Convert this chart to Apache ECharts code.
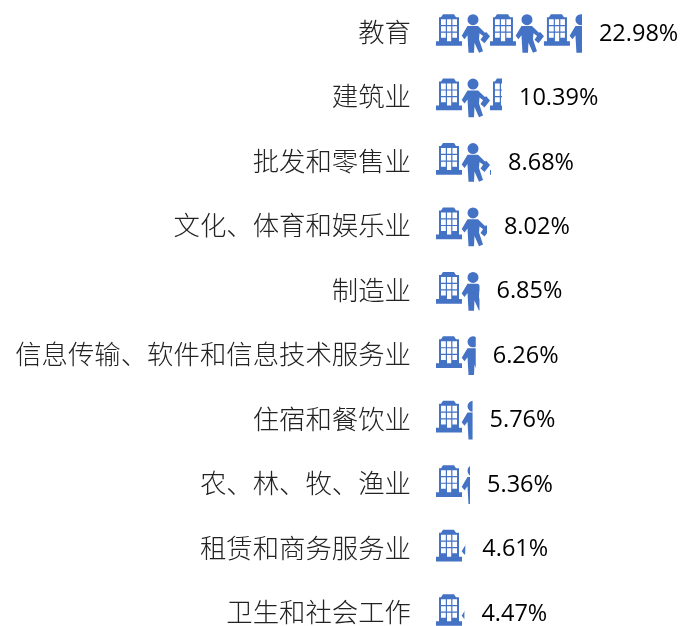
<!DOCTYPE html>
<html>
<head>
<meta charset="UTF-8">
<title>行业分布</title>
<style>
html,body{margin:0;padding:0;background:#fff}
#main{width:680px;height:626px}
</style>
<script src="https://cdn.jsdelivr.net/npm/echarts@6/dist/echarts.min.js"></script>
</head>
<body>
<div id="main"></div>
<script>
var categories = ['教育','建筑业','批发和零售业','文化、体育和娱乐业','制造业','信息传输、软件和信息技术服务业','住宿和餐饮业','农、林、牧、渔业','租赁和商务服务业','卫生和社会工作'];
var values = [22.98,10.39,8.68,8.02,6.85,6.26,5.76,5.36,4.61,4.47];

// one building + one person, 54 x 38.7 px
var building = 'M7 0L18 0L20 3L23 3L23 27L26 27L26 31.7L0 31.7L0 27L3 27L3 3L5 3Z'
  + 'M5 5L5 10.8L9.8 10.8L9.8 5Z M11 5L11 10.8L15.2 10.8L15.2 5Z M16.4 5L16.4 10.8L21 10.8L21 5Z'
  + 'M5 12L5 17.4L9.8 17.4L9.8 12Z M11 12L11 17.4L15.2 17.4L15.2 12Z M16.4 12L16.4 17.4L21 17.4L21 12Z'
  + 'M5 18.6L5 23.6L9.8 23.6L9.8 18.6Z M16.4 18.6L16.4 23.6L21 23.6L21 18.6Z M11 18.6L11 27L15.2 27L15.2 18.6Z';
var person = 'M37 0A5.5 5.5 0 1 1 37 11A5.5 5.5 0 1 1 37 0Z'
  + 'M31.5 11.8L42 11.8L49.5 19L47.5 22L43.5 19L43 25L47 37L43 38.7L38.5 28.5L38 38.7L32.5 38.7L31.5 21L28.5 25L25.7 21.5Z'
  + 'M50 17.5L54 22L48.5 29L44.5 25.5Z';
var unitPath = 'path://' + building + person;

var chart = echarts.init(document.getElementById('main'));
chart.setOption({
  animation: false,
  backgroundColor: '#fff',
  grid: {left: 436, top: 32, width: 215.9, height: 580},
  xAxis: {type: 'value', min: 0, max: 34, show: false},
  yAxis: {
    type: 'category',
    inverse: true,
    boundaryGap: false,
    data: categories,
    axisLine: {show: false},
    axisTick: {show: false},
    axisLabel: {
      margin: 25,
      fontSize: 26.4,
      fontWeight: 300,
      color: '#222',
      fontFamily: 'Noto Sans CJK SC'
    }
  },
  series: [
    {
      type: 'pictorialBar',
      data: values,
      symbol: unitPath,
      symbolSize: [54, 38.7],
      symbolRepeat: 'fixed',
      symbolClip: true,
      symbolMargin: 0,
      symbolBoundingData: 34,
      symbolOffset: [0, 1.5],
      itemStyle: {color: '#4472C4'},
      z: 3
    },
    {
      // invisible bar, only carries the value label
      type: 'bar',
      data: values,
      barGap: '-100%',
      barWidth: 30,
      itemStyle: {color: 'transparent'},
      label: {
        show: true,
        position: 'right',
        distance: 17,
        offset: [0, 2],
        fontSize: 23.5,
        color: '#000',
        fontFamily: 'Open Sans',
        formatter: function (p) { return p.value.toFixed(2) + '%'; }
      }
    }
  ]
});
</script>
</body>
</html>
